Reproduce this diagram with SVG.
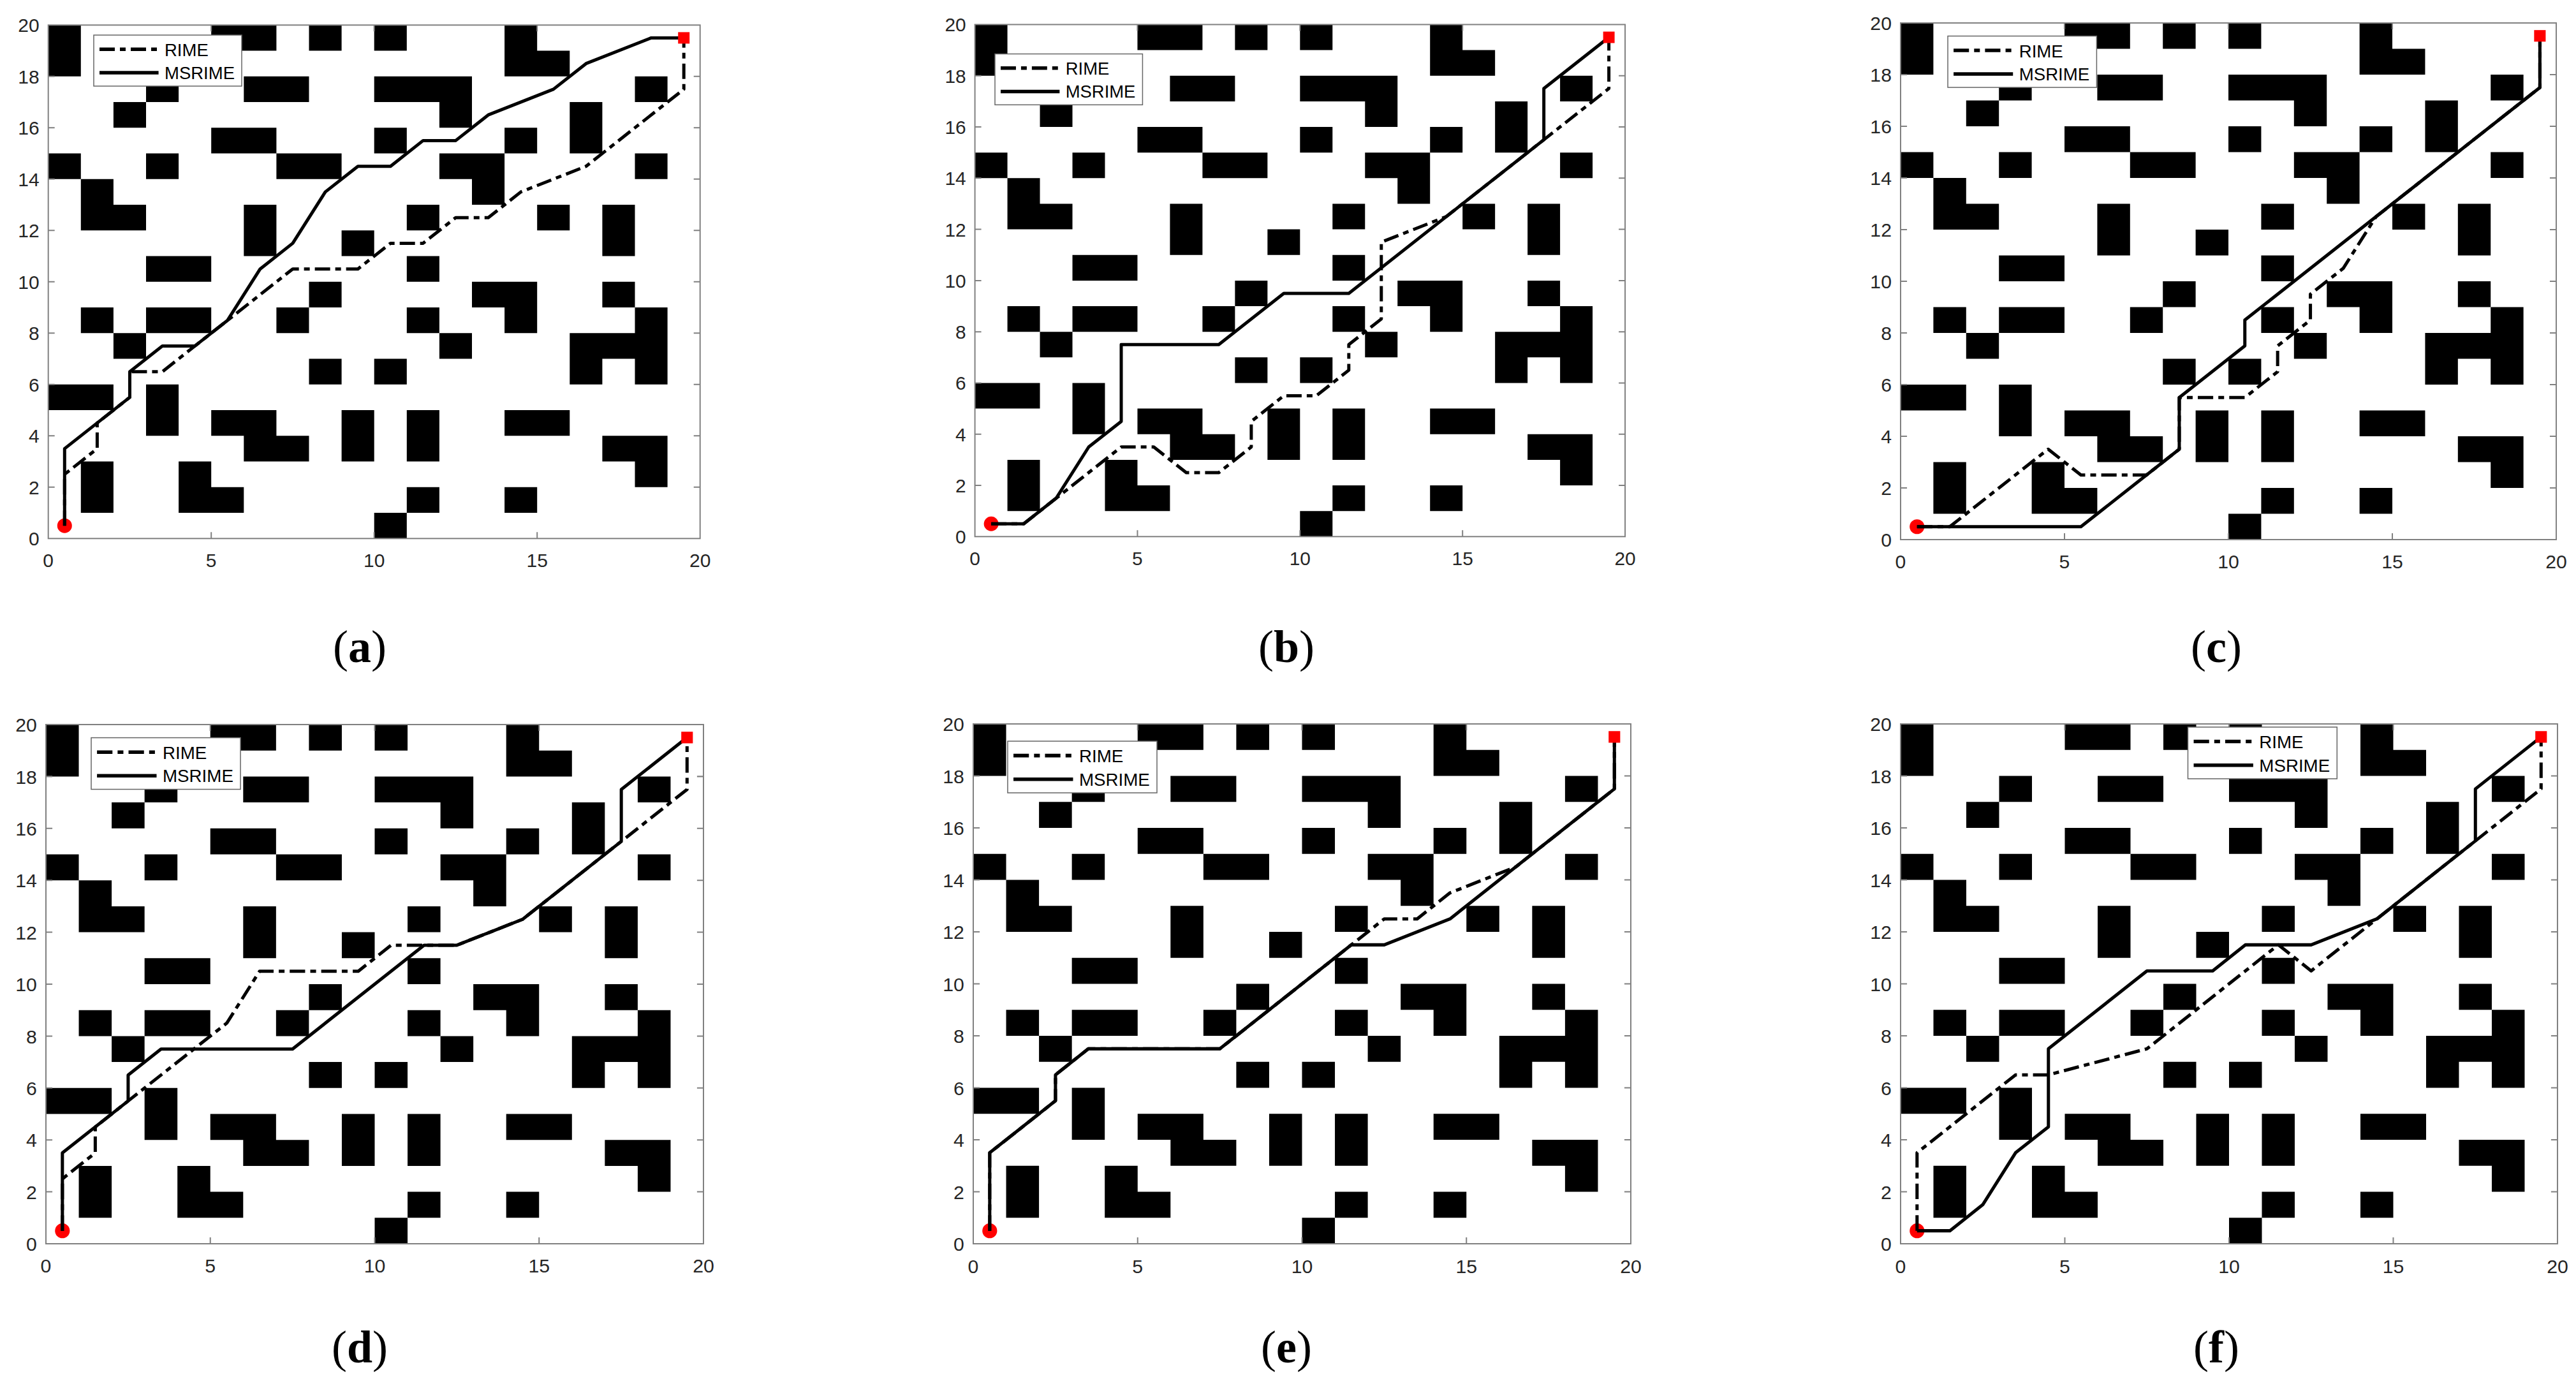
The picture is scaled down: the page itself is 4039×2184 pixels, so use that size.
<svg xmlns="http://www.w3.org/2000/svg" xmlns:xlink="http://www.w3.org/1999/xlink" width="4039" height="2184" viewBox="0 0 4039 2184">
<style>
.obs{fill:#000}
.rime{fill:none;stroke:#000;stroke-width:5;stroke-dasharray:24 8 9 8;stroke-linejoin:round}
.ms{fill:none;stroke:#000;stroke-width:5;stroke-linejoin:round}
.lgl{stroke-width:5.5}
.box{fill:none;stroke:#808080;stroke-width:2}
.tick{fill:none;stroke:#808080;stroke-width:2}
.tl{font-family:"Liberation Sans",Arial,sans-serif;font-size:30px;fill:#262626}
.lgt{font-family:"Liberation Sans",Arial,sans-serif;font-size:27.5px;fill:#000}
.cap{font-family:"Liberation Serif","Times New Roman",serif;font-size:72px;fill:#000}
.start{fill:#ff0000}
.goal{fill:#ff0000}
</style>
<defs>
<g id="map">
<path class="obs" transform="scale(51.1,-40.25)" d="M0 19h1v1h-1z M5 19h2v1h-2z M8 19h1v1h-1z M10 19h1v1h-1z M14 19h1v1h-1z
M0 18h1v1h-1z M14 18h2v1h-2z
M3 17h1v1h-1z M6 17h2v1h-2z M10 17h3v1h-3z M18 17h1v1h-1z
M2 16h1v1h-1z M12 16h1v1h-1z M16 16h1v1h-1z
M5 15h2v1h-2z M10 15h1v1h-1z M14 15h1v1h-1z M16 15h1v1h-1z
M0 14h1v1h-1z M3 14h1v1h-1z M7 14h2v1h-2z M12 14h2v1h-2z M18 14h1v1h-1z
M1 13h1v1h-1z M13 13h1v1h-1z
M1 12h2v1h-2z M6 12h1v1h-1z M11 12h1v1h-1z M15 12h1v1h-1z M17 12h1v1h-1z
M6 11h1v1h-1z M9 11h1v1h-1z M17 11h1v1h-1z
M3 10h2v1h-2z M11 10h1v1h-1z
M8 9h1v1h-1z M13 9h2v1h-2z M17 9h1v1h-1z
M1 8h1v1h-1z M3 8h2v1h-2z M7 8h1v1h-1z M11 8h1v1h-1z M14 8h1v1h-1z M18 8h1v1h-1z
M2 7h1v1h-1z M12 7h1v1h-1z M16 7h3v1h-3z
M8 6h1v1h-1z M10 6h1v1h-1z M16 6h1v1h-1z M18 6h1v1h-1z
M0 5h2v1h-2z M3 5h1v1h-1z
M3 4h1v1h-1z M5 4h2v1h-2z M9 4h1v1h-1z M11 4h1v1h-1z M14 4h2v1h-2z
M6 3h2v1h-2z M9 3h1v1h-1z M11 3h1v1h-1z M17 3h2v1h-2z
M1 2h1v1h-1z M4 2h1v1h-1z M18 2h1v1h-1z
M1 1h1v1h-1z M4 1h2v1h-2z M11 1h1v1h-1z M14 1h1v1h-1z
M10 0h1v1h-1z"/>
</g>
<g id="axes">
<rect class="box" x="0" y="-805" width="1022" height="805"/>
<path class="tick" d="M255.5 0v-10M511 0v-10M766.5 0v-10M255.5 -805v10M511 -805v10M766.5 -805v10
M0 -80.5h10M0 -161h10M0 -241.5h10M0 -322h10M0 -402.5h10M0 -483h10M0 -563.5h10M0 -644h10M0 -724.5h10
M1022 -80.5h-10M1022 -161h-10M1022 -241.5h-10M1022 -322h-10M1022 -402.5h-10M1022 -483h-10M1022 -563.5h-10M1022 -644h-10M1022 -724.5h-10"/>
<g class="tl" text-anchor="middle">
<text x="0" y="45">0</text><text x="255.5" y="45">5</text><text x="511" y="45">10</text><text x="766.5" y="45">15</text><text x="1022" y="45">20</text>
</g>
<g class="tl" text-anchor="end">
<text x="-14" y="11">0</text><text x="-14" y="-69.5">2</text><text x="-14" y="-150">4</text><text x="-14" y="-230.5">6</text><text x="-14" y="-311">8</text><text x="-14" y="-391.5">10</text><text x="-14" y="-472">12</text><text x="-14" y="-552.5">14</text><text x="-14" y="-633">16</text><text x="-14" y="-713.5">18</text><text x="-14" y="-794">20</text>
</g>
</g>
<g id="legend">
<rect x="0" y="0" width="232" height="80" fill="#fff" stroke="#666" stroke-width="1.5"/>
<path class="rime lgl" d="M9 22.3H101.6"/>
<path class="ms lgl" d="M9 59H101.6"/>
<text class="lgt" x="111" y="33">RIME</text>
<text class="lgt" x="111" y="69">MSRIME</text>
</g>
</defs>

<g id="panel-a" transform="translate(75.7,844.3)">
<use href="#map"/>
<circle class="start" cx="25.6" cy="-20.1" r="11.5"/>
<g id="paths-a">
<path class="rime" d="M25.6 -20.1L25.6 -100.6L76.7 -140.9L76.7 -181.1L127.8 -221.4L127.8 -261.6L178.9 -261.6L230 -301.9L281.1 -342.1L383.3 -422.6L485.5 -422.6L536.6 -462.9L587.7 -462.9L638.8 -503.1L689.9 -503.1L741 -543.4L843.2 -583.6L996.5 -704.4L996.5 -784.9"/>
<path class="ms" d="M25.6 -20.1L25.6 -140.9L127.8 -221.4L127.8 -261.6L178.9 -301.9L230 -301.9L281.1 -342.1L332.2 -422.6L383.3 -462.9L434.4 -543.4L485.5 -583.6L536.6 -583.6L587.7 -623.9L638.8 -623.9L689.9 -664.1L792.1 -704.4L843.2 -744.6L945.4 -784.9L996.5 -784.9"/>
</g>
<rect class="goal" x="987.5" y="-793.9" width="18" height="18"/>
<use href="#axes"/>
<use href="#legend" transform="translate(71.3,-789.3)"/>
</g>

<g id="panel-b" transform="translate(1528.6,841.3) scale(0.9975,0.9973)">
<use href="#map"/>
<circle class="start" cx="25.6" cy="-20.1" r="11.5"/>
<g id="paths-b">
<path class="rime" d="M25.6 -20.1L76.7 -20.1L127.8 -60.4L230 -140.9L281.1 -140.9L332.2 -100.6L383.3 -100.6L434.4 -140.9L434.4 -181.1L485.5 -221.4L536.6 -221.4L587.7 -261.6L587.7 -301.9L638.8 -342.1L638.8 -462.9L741 -503.1L894.3 -623.9L996.5 -704.4L996.5 -784.9"/>
<path class="ms" d="M25.6 -20.1L76.7 -20.1L127.8 -60.4L178.9 -140.9L230 -181.1L230 -301.9L383.3 -301.9L485.5 -382.4L587.7 -382.4L894.3 -623.9L894.3 -704.4L996.5 -784.9"/>
</g>
<rect class="goal" x="987.5" y="-793.9" width="18" height="18"/>
<use href="#axes"/>
<use href="#legend" transform="translate(31.5,-758.8)"/>
</g>

<g id="panel-c" transform="translate(2980,846) scale(1.0059,1.0062)">
<use href="#map"/>
<circle class="start" cx="25.6" cy="-20.1" r="11.5"/>
<g id="paths-c">
<path class="rime" d="M25.6 -20.1L76.7 -20.1L230 -140.9L281.1 -100.6L383.3 -100.6L434.4 -140.9L434.4 -221.4L536.6 -221.4L587.7 -261.6L587.7 -301.9L638.8 -342.1L638.8 -382.4L689.9 -422.6L741 -503.1L996.5 -704.4L996.5 -784.9"/>
<path class="ms" d="M25.6 -20.1L281.1 -20.1L434.4 -140.9L434.4 -221.4L536.6 -301.9L536.6 -342.1L996.5 -704.4L996.5 -784.9"/>
</g>
<rect class="goal" x="987.5" y="-793.9" width="18" height="18"/>
<use href="#axes"/>
<use href="#legend" transform="translate(73.6,-784.6)"/>
</g>

<g id="panel-d" transform="translate(72,1950) scale(1.0088,1.0112)">
<use href="#map"/>
<circle class="start" cx="25.6" cy="-20.1" r="11.5"/>
<g id="paths-d">
<path class="rime" d="M25.6 -20.1L25.6 -100.6L76.7 -140.9L76.7 -181.1L127.8 -221.4L281.1 -342.1L332.2 -422.6L485.5 -422.6L536.6 -462.9L638.8 -462.9L741 -503.1L894.3 -623.9L996.5 -704.4L996.5 -784.9"/>
<path class="ms" d="M25.6 -20.1L25.6 -140.9L127.8 -221.4L127.8 -261.6L178.9 -301.9L383.3 -301.9L587.7 -462.9L638.8 -462.9L741 -503.1L894.3 -623.9L894.3 -704.4L996.5 -784.9"/>
</g>
<rect class="goal" x="987.5" y="-793.9" width="18" height="18"/>
<use href="#axes"/>
<use href="#legend" transform="translate(70.4,-784.6)"/>
</g>

<g id="panel-e" transform="translate(1526,1950) scale(1.0088,1.0124)">
<use href="#map"/>
<circle class="start" cx="25.6" cy="-20.1" r="11.5"/>
<g id="paths-e">
<path class="rime" d="M25.6 -20.1L25.6 -140.9L127.8 -221.4L127.8 -261.6L178.9 -301.9L383.3 -301.9L587.7 -462.9L638.8 -503.1L689.9 -503.1L741 -543.4L843.2 -583.6L996.5 -704.4L996.5 -784.9"/>
<path class="ms" d="M25.6 -20.1L25.6 -140.9L127.8 -221.4L127.8 -261.6L178.9 -301.9L383.3 -301.9L587.7 -462.9L638.8 -462.9L741 -503.1L996.5 -704.4L996.5 -784.9"/>
</g>
<rect class="goal" x="987.5" y="-793.9" width="18" height="18"/>
<use href="#axes"/>
<use href="#legend" transform="translate(53.5,-778.3)"/>
</g>

<g id="panel-f" transform="translate(2980,1950) scale(1.0078,1.0124)">
<use href="#map"/>
<circle class="start" cx="25.6" cy="-20.1" r="11.5"/>
<g id="paths-f">
<path class="rime" d="M25.6 -20.1L25.6 -140.9L178.9 -261.6L230 -261.6L383.3 -301.9L587.7 -462.9L638.8 -422.6L741 -503.1L894.3 -623.9L996.5 -704.4L996.5 -784.9"/>
<path class="ms" d="M25.6 -20.1L76.7 -20.1L127.8 -60.4L178.9 -140.9L230 -181.1L230 -301.9L383.3 -422.6L485.5 -422.6L536.6 -462.9L638.8 -462.9L741 -503.1L894.3 -623.9L894.3 -704.4L996.5 -784.9"/>
</g>
<rect class="goal" x="987.5" y="-793.9" width="18" height="18"/>
<use href="#axes"/>
<use href="#legend" transform="translate(447,-800.1)"/>
</g>

<g id="captions" class="cap" text-anchor="middle">
<text x="564" y="1038">(<tspan font-weight="bold">a</tspan>)</text>
<text x="2017" y="1038">(<tspan font-weight="bold">b</tspan>)</text>
<text x="3475" y="1038">(<tspan font-weight="bold">c</tspan>)</text>
<text x="564" y="2136">(<tspan font-weight="bold">d</tspan>)</text>
<text x="2017" y="2136">(<tspan font-weight="bold">e</tspan>)</text>
<text x="3475" y="2136">(<tspan font-weight="bold">f</tspan>)</text>
</g>
</svg>
